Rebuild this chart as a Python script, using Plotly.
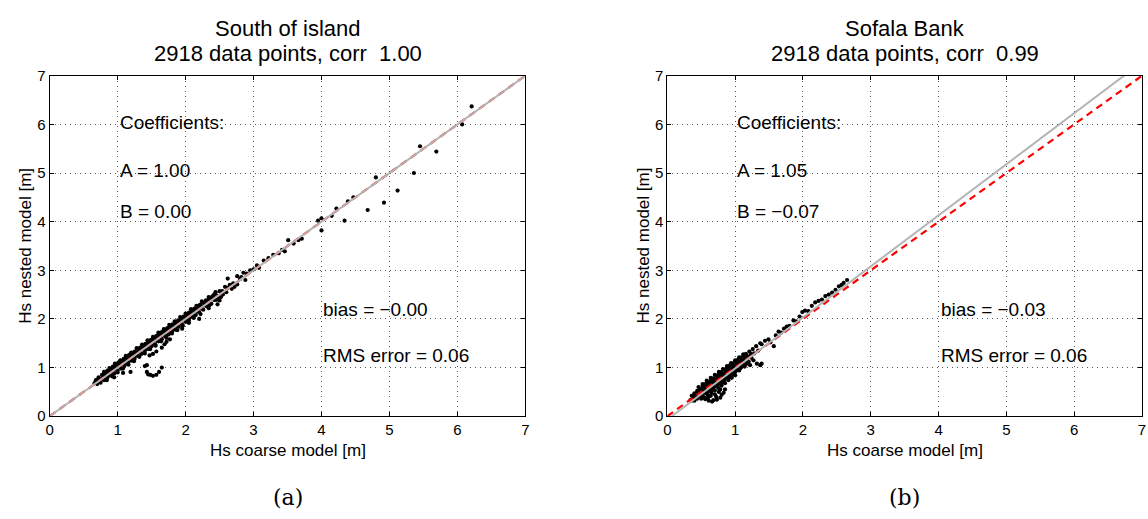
import plotly.graph_objects as go

# ---------------- data ----------------
title_l1 = ["South of island", "Sofala Bank"]
title_l2 = ["2918 data points, corr  1.00", "2918 data points, corr  0.99"]
coef_A = [1.00, 1.05]
coef_B = [0.00, -0.07]
bias_txt = ["bias = \u22120.00", "bias = \u22120.03"]
rms_txt = ["RMS error = 0.06", "RMS error = 0.06"]
a_txt = ["A = 1.00", "A = 1.05"]
b_txt = ["B = 0.00", "B = \u22120.07"]
ticks = [0, 1, 2, 3, 4, 5, 6, 7]

# panel (a) scatter: Hs coarse (x) vs Hs nested (y) -- dense core
a_core_x = [0.68,0.72,0.77,0.81,0.85,0.89,0.93,0.97,1.01,1.05,1.09,1.13,1.17,1.21,1.25,1.29,1.33,1.37,1.41,1.45,
            1.49,1.53,1.57,1.61,1.65,1.69,1.73,1.77,1.81,1.85,1.89,1.93,1.97,2.01,2.05,2.09,2.13,2.17,2.21,2.25,
            2.30,2.36,2.42,2.50,2.58,
            0.66,0.70,0.74,0.79,0.83,0.87,0.91,0.95,0.99,1.03,1.07,1.11,1.15,1.19,1.23,1.27,1.31,1.35,1.39,1.43,
            1.47,1.51,1.55,1.59,1.63,1.67,1.71,1.75,1.79,1.83,1.87,1.91,1.95,1.99,2.03,2.07,2.11,2.15,2.19,2.23,
            2.28,2.33,2.39,2.46,2.54,2.62,2.70,2.80,2.90,
            0.70,0.75,0.80,0.85,0.90,0.95,1.00,1.05,1.10,1.15,1.20,1.25,1.30,1.35,1.40,1.45,1.50,1.55,1.60,1.65,
            1.70,1.75,1.80,1.85,1.90,1.95,2.00,2.05,2.10,2.15,2.20,2.26,2.32,2.38,2.45,2.52,2.60,2.68,2.76,
            0.80,0.88,0.96,1.04,1.12,1.20,1.28,1.36,1.44,1.52,1.60,1.68,1.76,1.84,1.92,2.00,2.08,2.16,2.24,2.34,2.44,
            0.84,0.92,1.00,1.08,1.16,1.24,1.32,1.40,1.48,1.56,1.64,1.72,1.80,1.88,1.96,2.04,2.12,2.22,2.34,2.50,
            0.72,0.78,0.84,0.90,0.96,1.02,1.08,1.14,1.20,1.26,1.32,1.38,1.44,1.50,1.56,1.62,1.68,1.74,1.80,1.86,
            1.92,1.98,2.04,2.10,2.16,2.22,2.28,2.34,2.40,
            0.74,0.80,0.86,0.92,0.98,1.04,1.10,1.16,1.22,1.28,1.34,1.40,1.46,1.52,1.58,1.64,1.70,1.76,1.82,1.88,
            1.94,2.00,2.06,2.12,2.18,2.24,2.30,2.36,2.42,2.48]
a_core_y = [0.74,0.80,0.85,0.88,0.94,0.97,1.02,1.06,1.10,1.14,1.18,1.21,1.26,1.29,1.33,1.38,1.41,1.46,1.49,1.54,
            1.57,1.62,1.65,1.70,1.73,1.78,1.81,1.86,1.89,1.94,1.97,2.02,2.05,2.10,2.13,2.18,2.21,2.26,2.29,2.34,
            2.38,2.44,2.50,2.57,2.66,
            0.68,0.73,0.76,0.81,0.86,0.89,0.94,0.97,1.02,1.05,1.10,1.13,1.18,1.21,1.26,1.29,1.34,1.37,1.42,1.45,
            1.50,1.53,1.58,1.61,1.66,1.69,1.74,1.77,1.82,1.85,1.90,1.93,1.98,2.01,2.06,2.09,2.14,2.17,2.22,2.25,
            2.30,2.36,2.41,2.48,2.57,2.64,2.73,2.82,2.93,
            0.66,0.69,0.74,0.79,0.84,0.88,0.94,0.98,1.04,1.08,1.14,1.18,1.24,1.28,1.34,1.38,1.44,1.48,1.54,1.58,
            1.64,1.68,1.74,1.78,1.84,1.88,1.94,1.98,2.04,2.08,2.14,2.19,2.26,2.31,2.39,2.45,2.55,2.62,2.71,
            0.91,0.99,1.08,1.15,1.24,1.31,1.40,1.47,1.56,1.63,1.72,1.79,1.88,1.95,2.04,2.11,2.20,2.27,2.36,2.45,2.55,
            0.74,0.82,0.90,0.98,1.06,1.13,1.22,1.29,1.38,1.45,1.54,1.61,1.70,1.77,1.86,1.93,2.02,2.10,2.22,2.38,
            0.77,0.83,0.89,0.96,1.01,1.07,1.13,1.19,1.25,1.31,1.37,1.43,1.49,1.55,1.61,1.67,1.73,1.79,1.85,1.91,
            1.97,2.03,2.09,2.15,2.21,2.27,2.33,2.39,2.45,
            0.71,0.77,0.83,0.89,0.95,1.01,1.07,1.13,1.19,1.25,1.31,1.37,1.43,1.49,1.55,1.61,1.67,1.73,1.79,1.85,
            1.91,1.97,2.03,2.09,2.15,2.21,2.27,2.33,2.39,2.45]
# panel (a) scattered points / outliers
a_out_x = [0.95,1.08,1.19,1.43,1.45,1.48,1.52,1.57,1.61,1.65,1.40,1.43,1.47,1.52,1.57,1.65,1.69,1.72,1.77,
           1.95,2.05,2.20,2.35,2.40,2.47,2.55,2.62,2.65,2.72,2.76,2.82,2.85,2.88,2.95,3.00,3.05,3.08,3.15,
           3.22,3.29,3.37,3.42,3.46,3.51,3.59,3.66,3.71,
           3.95,4.00,4.00,4.15,4.22,4.34,4.39,4.47,4.68,4.80,4.92,5.12,5.36,5.45,5.69,6.07,6.21]
a_out_y = [0.80,0.89,0.91,0.91,0.86,0.85,0.83,0.85,0.91,1.00,1.03,1.05,1.25,1.28,1.33,1.41,1.48,1.53,1.58,
           1.80,1.92,2.00,2.28,2.47,2.30,2.50,2.83,2.70,2.66,2.88,2.86,2.95,2.80,3.00,3.02,3.10,3.05,3.20,
           3.25,3.32,3.35,3.42,3.39,3.62,3.55,3.62,3.65,
           4.02,4.07,3.82,4.12,4.27,4.02,4.42,4.50,4.24,4.91,4.39,4.64,5.00,5.55,5.44,6.00,6.37]

# panel (b) scatter -- dense core
b_core_x = [0.36,0.40,0.44,0.48,0.52,0.56,0.60,0.64,0.68,0.72,0.76,0.80,0.84,0.88,0.92,0.96,1.00,1.04,1.08,1.12,
            1.16,1.21,1.26,1.31,1.37,
            0.38,0.42,0.46,0.50,0.54,0.58,0.62,0.66,0.70,0.74,0.78,0.82,0.86,0.90,0.94,0.98,1.02,1.06,1.10,1.14,
            1.18,1.23,
            0.34,0.38,0.42,0.46,0.50,0.54,0.58,0.62,0.66,0.70,0.74,0.78,0.82,0.86,0.90,0.94,0.98,1.02,1.06,1.10,
            1.14,1.18,1.23,1.28,1.34,
            0.40,0.44,0.48,0.52,0.56,0.60,0.64,0.68,0.72,0.76,0.80,0.84,0.88,0.92,0.96,1.00,1.04,1.08,1.12,1.16,1.20,
            0.50,0.55,0.60,0.65,0.70,0.75,0.80,0.85,0.90,0.95,1.00,
            0.46,0.52,0.58,0.64,0.70,0.76,0.82,0.88,0.94,1.00,1.06,1.12,
            0.36,0.44,0.52,0.60,0.68,0.76,0.84,0.92,1.00,1.08,1.16,1.24,
            0.58,0.66,0.74,0.82,0.90,0.98,1.06,1.14,
            0.40,0.48,0.56,0.64,0.72,0.80,0.88,0.96,1.04,1.12,1.20,
            0.62,0.70,0.78,0.86,0.94,1.02,1.10,1.18]
b_core_y = [0.42,0.47,0.52,0.56,0.62,0.66,0.70,0.74,0.78,0.83,0.87,0.91,0.96,1.00,1.04,1.08,1.12,1.16,1.20,1.24,
            1.28,1.33,1.38,1.44,1.50,
            0.42,0.46,0.51,0.55,0.59,0.63,0.67,0.71,0.75,0.79,0.83,0.87,0.91,0.95,0.99,1.03,1.07,1.11,1.15,1.19,
            1.23,1.28,
            0.33,0.38,0.42,0.45,0.50,0.53,0.58,0.61,0.66,0.69,0.74,0.77,0.82,0.85,0.90,0.93,0.98,1.01,1.06,1.09,
            1.14,1.18,1.23,1.29,1.35,
            0.32,0.36,0.40,0.43,0.48,0.51,0.56,0.59,0.64,0.67,0.72,0.75,0.80,0.83,0.88,0.91,0.96,0.99,1.04,1.07,1.12,
            0.36,0.38,0.43,0.48,0.53,0.58,0.63,0.68,0.74,0.79,0.84,
            0.60,0.66,0.73,0.79,0.85,0.91,0.97,1.03,1.09,1.15,1.21,1.27,
            0.32,0.40,0.48,0.56,0.64,0.72,0.80,0.88,0.96,1.04,1.12,1.20,
            0.46,0.54,0.62,0.70,0.78,0.86,0.94,1.02,
            0.42,0.50,0.58,0.66,0.74,0.82,0.90,0.98,1.06,1.14,1.22,
            0.54,0.62,0.70,0.78,0.86,0.94,1.02,1.10]
# panel (b) scattered points / outliers
b_out_x = [0.56,0.61,0.66,0.73,0.78,0.83,0.85,0.78,0.70,0.60,0.68,0.64,0.72,0.80,0.76,
           1.32,1.37,1.39,1.27,1.22,
           1.39,1.44,1.49,1.52,1.57,1.60,1.64,1.68,1.72,1.76,1.80,1.86,1.90,1.95,1.99,2.03,2.08,2.13,2.18,2.23,
           2.28,2.33,2.38,2.43,2.48,2.53,2.57,2.60,2.65]
b_out_y = [0.35,0.32,0.30,0.34,0.38,0.48,0.55,0.55,0.45,0.38,0.33,0.42,0.40,0.44,0.50,
           1.08,1.05,1.08,1.15,1.05,
           1.48,1.55,1.58,1.52,1.44,1.66,1.74,1.72,1.80,1.84,1.86,1.97,1.95,2.05,2.14,2.17,2.16,2.27,2.34,2.37,
           2.40,2.47,2.50,2.54,2.60,2.67,2.70,2.74,2.80]

# ---------------- figure ----------------
W, H = 1148, 519
x_dom = [[46 / W, 525 / W], [668 / W, 1146 / W]]
y_dom = [(H - 421) / H, (H - 69) / H]

fig = go.Figure()
scat = [(a_core_x + a_out_x, a_core_y + a_out_y), (b_core_x + b_out_x, b_core_y + b_out_y)]
FONT = "Liberation Sans, Arial, Helvetica, sans-serif"

for i in range(2):
    xa = "x" if i == 0 else "x2"
    ya = "y" if i == 0 else "y2"
    sx, sy = scat[i]
    fig.add_trace(go.Scatter(x=sx, y=sy, mode="markers", xaxis=xa, yaxis=ya,
                             marker=dict(color="black", size=4.2, line=dict(width=0)),
                             showlegend=False, hoverinfo="skip"))
    # 1:1 reference line (red dashed)
    fig.add_trace(go.Scatter(x=[0, 7], y=[0, 7], mode="lines", xaxis=xa, yaxis=ya,
                             line=dict(color="red", width=2.2, dash="7px,5px"),
                             showlegend=False, hoverinfo="skip"))
    # regression line (grey)
    fx = [0, 7]
    fy = [coef_A[i] * v + coef_B[i] for v in fx]
    fig.add_trace(go.Scatter(x=fx, y=fy, mode="lines", xaxis=xa, yaxis=ya,
                             line=dict(color="#b4b4b4", width=2),
                             showlegend=False, hoverinfo="skip"))

axis_common = dict(range=[0, 7], tickvals=ticks, ticks="inside", ticklen=4,
                   tickcolor="black", showline=True, linecolor="black", linewidth=1.2,
                   mirror="ticks", showgrid=True, gridcolor="#555555", griddash="1px,4px",
                   gridwidth=1, zeroline=False,
                   tickfont=dict(family=FONT, size=15, color="black"))

fig.update_layout(
    width=W, height=H, margin=dict(l=0, r=0, t=0, b=0),
    plot_bgcolor="white", paper_bgcolor="white",
    xaxis=dict(domain=x_dom[0], anchor="y", **axis_common),
    yaxis=dict(domain=y_dom, anchor="x", **axis_common),
    xaxis2=dict(domain=x_dom[1], anchor="y2", **axis_common),
    yaxis2=dict(domain=y_dom, anchor="x2", **axis_common),
)

ann = []
for i in range(2):
    xr = "x" if i == 0 else "x2"
    yr = "y" if i == 0 else "y2"
    cx = (x_dom[i][0] + x_dom[i][1]) / 2
    # title (two lines)
    ann.append(dict(text=title_l1[i], xref="paper", yref="paper", x=cx, y=1 - 20 / H,
                    xanchor="center", yanchor="middle", showarrow=False,
                    font=dict(family=FONT, size=22, color="black")))
    ann.append(dict(text=title_l2[i], xref="paper", yref="paper", x=cx, y=1 - 46 / H,
                    xanchor="center", yanchor="middle", showarrow=False,
                    font=dict(family=FONT, size=22, color="black")))
    # x label
    ann.append(dict(text="Hs coarse model [m]", xref="paper", yref="paper", x=cx, y=1 - 456 / H,
                    xanchor="center", yanchor="middle", showarrow=False,
                    font=dict(family=FONT, size=17, color="black")))
    # y label
    ann.append(dict(text="Hs nested model [m]", xref="paper", yref="paper",
                    x=(x_dom[i][0] * W - 24) / W, y=1 - 245 / H, textangle=-90,
                    xanchor="center", yanchor="middle", showarrow=False,
                    font=dict(family=FONT, size=17, color="black")))
    # caption
    ann.append(dict(text="(a)" if i == 0 else "(b)", xref="paper", yref="paper", x=cx, y=1 - 505 / H,
                    xanchor="center", yanchor="middle", showarrow=False,
                    font=dict(family="DejaVu Serif, Liberation Serif, serif", size=22, color="black")))
    # in-plot text
    tx = 1.0
    tx2 = 4.0
    for txt, xx, yy in [("Coefficients:", tx, 6.04), (a_txt[i], tx, 5.05), (b_txt[i], tx, 4.21),
                        (bias_txt[i], tx2, 2.19), (rms_txt[i], tx2, 1.25)]:
        ann.append(dict(text=txt, xref=xr, yref=yr, x=xx, y=yy, xanchor="left", yanchor="middle",
                        showarrow=False, font=dict(family=FONT, size=19, color="black")))

fig.update_layout(annotations=ann)
fig.write_html("out.html")
